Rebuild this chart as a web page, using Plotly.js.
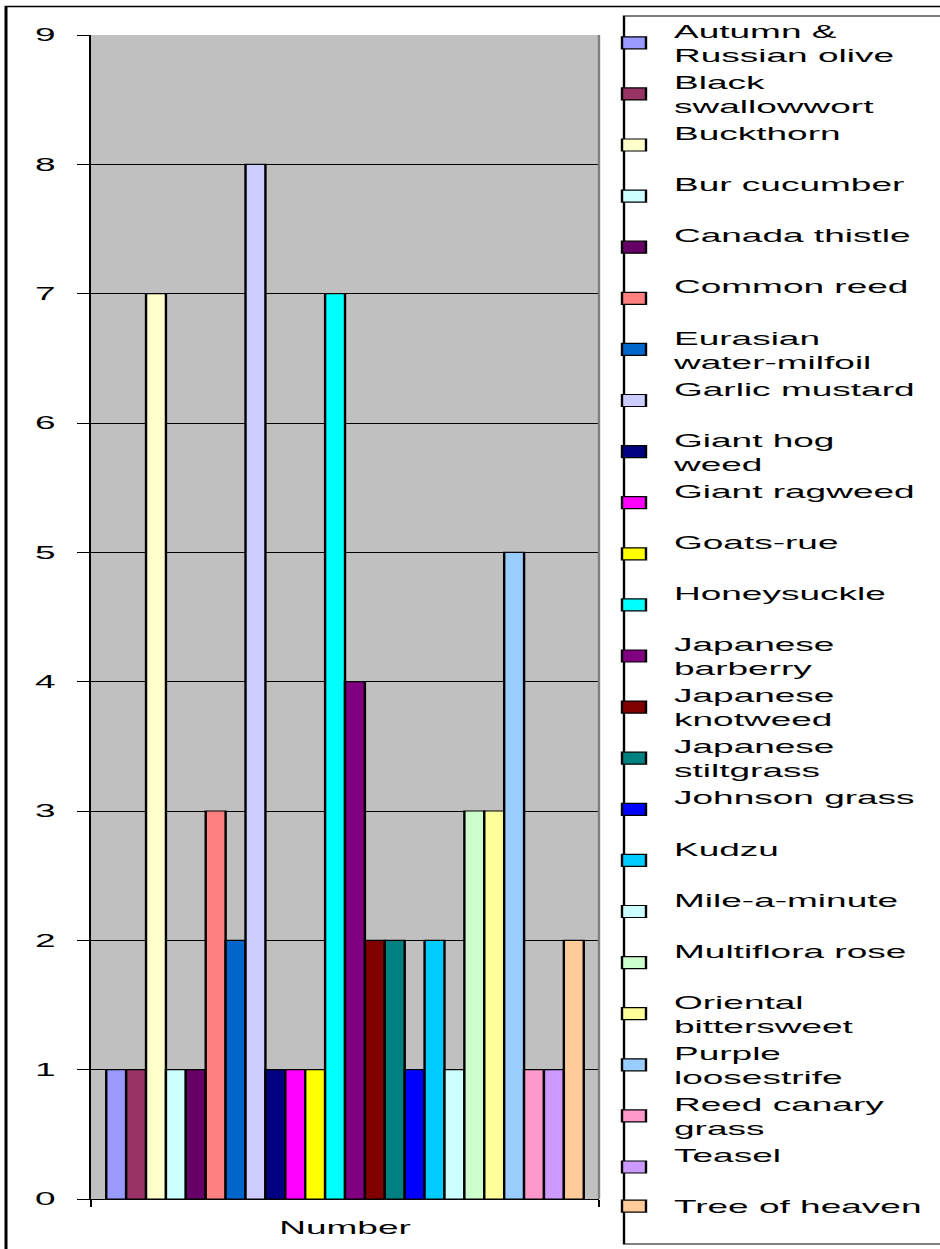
<!DOCTYPE html>
<html>
<head>
<meta charset="utf-8">
<script src="https://cdn.plot.ly/plotly-3.0.1.min.js"></script>
<style>
html,body{margin:0;padding:0;background:#fff;overflow:hidden;}
#wrap{width:940px;height:1249px;overflow:hidden;}
#chart{width:470px;height:1249px;transform:scale(2,1);transform-origin:0 0;}
</style>
</head>
<body>
<div id="wrap"><div id="chart"></div></div>
<script>
// ---- data ----
const categories = ["Number"];
const species = [
  "Autumn &<br>Russian olive", "Black<br>swallowwort", "Buckthorn", "Bur cucumber",
  "Canada thistle", "Common reed", "Eurasian<br>water-milfoil", "Garlic mustard",
  "Giant hog<br>weed", "Giant ragweed", "Goats-rue", "Honeysuckle",
  "Japanese<br>barberry", "Japanese<br>knotweed", "Japanese<br>stiltgrass", "Johnson grass",
  "Kudzu", "Mile-a-minute", "Multiflora rose", "Oriental<br>bittersweet",
  "Purple<br>loosestrife", "Reed canary<br>grass", "Teasel", "Tree of heaven"
];
const counts = [1, 1, 7, 1, 1, 3, 2, 8, 1, 1, 1, 7, 4, 2, 2, 1, 2, 1, 3, 3, 5, 1, 1, 2];
const colors = [
  "#9999FF", "#993366", "#FFFFCC", "#CCFFFF", "#660066", "#FF8080", "#0066CC", "#CCCCFF",
  "#000080", "#FF00FF", "#FFFF00", "#00FFFF", "#800080", "#800000", "#008080", "#0000FF",
  "#00CCFF", "#CCFFFF", "#CCFFCC", "#FFFF99", "#99CCFF", "#FF99CC", "#CC99FF", "#FFCC99"
];
const yTicks = [0, 1, 2, 3, 4, 5, 6, 7, 8, 9];

// ---- layout helpers (logical width is half the page; page is stretched 2x horizontally) ----
const W = 470, H = 1249;
const px = v => v / W;
const py = v => 1 - v / H;

const traces = species.map((s, i) => {
  const label = (s.indexOf("<br>") < 0 && i < species.length - 1) ? s + "<br>&nbsp;" : s;
  return {
    type: "bar",
    name: label,
    x: categories,
    y: [counts[i]],
    marker: { color: colors[i], line: { color: "#000", width: 1.2 } },
    hoverinfo: "none"
  };
});

const layout = {
  width: W, height: H,
  margin: { l: 0, r: 0, t: 0, b: 0, pad: 0 },
  paper_bgcolor: "#ffffff",
  plot_bgcolor: "#c0c0c0",
  font: { family: "Liberation Sans, Arial, sans-serif", size: 18.5, color: "#000" },
  barmode: "group", bargap: 0.06, bargroupgap: 0,
  showlegend: true,
  xaxis: {
    domain: [px(45.5), px(299.5)],
    showline: true, linecolor: "#000", linewidth: 1,
    ticks: "outside", tickson: "boundaries", ticklen: 7, tickcolor: "#000", tickwidth: 1,
    showgrid: false, zeroline: false, ticklabelstandoff: 12, fixedrange: true
  },
  yaxis: {
    domain: [50 / H, 1214 / H],
    range: [0, 9], tickvals: yTicks, ticktext: yTicks.map(String),
    showline: true, linecolor: "#000", linewidth: 1,
    ticks: "outside", ticklen: 6, tickcolor: "#000", tickwidth: 1,
    showgrid: true, gridcolor: "#000", gridwidth: 1,
    zeroline: false, ticklabelstandoff: 7, fixedrange: true
  },
  legend: {
    x: px(297), xanchor: "left", y: py(12.25), yanchor: "top",
    bgcolor: "rgba(0,0,0,0)", borderwidth: 0,
    font: { size: 18.5, color: "#000" },
    valign: "middle", traceorder: "normal"
  },
  shapes: [
    { type: "rect", xref: "paper", yref: "paper", x0: px(3), x1: 1.1, y0: py(6.5), y1: -0.1,
      line: { color: "#000", width: 1.5 }, fillcolor: "rgba(0,0,0,0)" },
    { type: "rect", xref: "paper", yref: "paper", x0: px(312), x1: 1.1, y0: py(16), y1: py(1244),
      line: { color: "#000", width: 1.2 }, fillcolor: "rgba(0,0,0,0)" },
    { type: "line", xref: "x domain", yref: "y domain", x0: 1, x1: 1, y0: 0, y1: 1,
      line: { color: "#808080", width: 1.2 } }
  ]
};

Plotly.newPlot("chart", traces, layout, { displayModeBar: false, staticPlot: true });
</script>
</body>
</html>
